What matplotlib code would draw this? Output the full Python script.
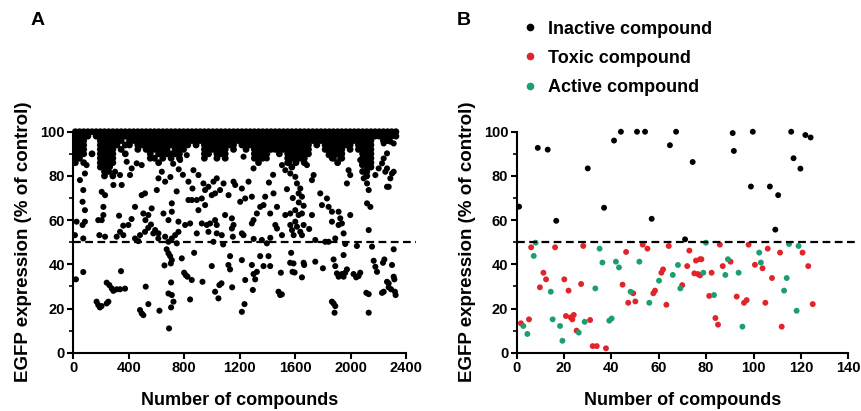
import matplotlib
matplotlib.use("Agg")
import matplotlib.pyplot as plt
from matplotlib.lines import Line2D

plt.rcParams["font.family"] = ["Liberation Sans", "DejaVu Sans"]
plt.rcParams["font.weight"] = "bold"

# ---------------- panel A data ----------------
threshold = 50
a_xticks = [0, 400, 800, 1200, 1600, 2000, 2400]
a_yticks = [0, 20, 40, 60, 80, 100]

# dense band near the top: one row per expression level, one column per 30 compounds
band_levels = [100, 98, 96, 94, 92, 90, 88, 86, 84, 82, 80]
band_step = 30
band_rows = [
    "###" "###" "####" "########" "######" "###" "####" "######" "######" "#####" "###" "###" "###" "###" "##" "###" "####" "###" "######",
    "###" "#.#" "####" "########" "######" "###" "####" "######" "######" "#####" "###" "###" "###" "###" "##" "###" "####" "###" "######",
    "###" "..." "####" "##.#####" "######" "###" "####" "######" "######" "#####" "###" "###" "###" "###" "##" "###" "####" "###" "..##..",
    "###" "..." "####" "#.##.###" "######" "###" "#.#." "######" "##.###" "#####" "###" "###" "###" ".#." "##" "###" "##.#" "###" "......",
    "###" "..." "####" ".#...#.#" "#####." "###" "...." "######" ".#..#." "#####" "###" "###" "###" "..." "##" "###" ".#.#" "###" "......",
    "###" ".#." "####" "..#....." "#.####" "##." "...." "##.###" "......" "####." ".#." "###" "###" "..." ".#" "###" "...." "###" "......",
    "##." "..." "####" "........" "##.#.#" ".#." "...." "#..#.#" "......" "###.." "..." "###" "##." "..." ".." "#.#" "...." "###" "......",
    "#.#" "..." "####" "........" "..#..." "..." "...." "......" "......" ".#..." "..." "#.#" ".#." "..." ".." ".#." "...." "###" "......",
    "..." "..." "###." "........" "......" "..." "...." "......" "......" "....." "..." ".#." "..." "..." ".." "..." "...." ".##" "......",
    "..." "..." ".##." "........" "......" "..." "...." "......" "......" "....." "..." "..." "..." "..." ".." "..." "...." "##." "......",
    "..." "..." ".#.#" "........" "......" "..." "...." "......" "......" "....." "..." "..." "..." "..." ".." "..." "...." ".#." "......",
]

# scattered compounds above the threshold (compound number, % of control)
a_upper = [
    (48, 78.1), (84, 81.1), (72, 73.6), (67, 68.3), (84, 64.5), (24, 59.3), (67, 57.8), (84, 59.3),
    (12, 53.2), (72, 51.7), (180, 60), (205, 60), (217, 62.3), (217, 66), (188, 53.2), (229, 52.5),
    (205, 72.8), (229, 71.3), (337, 54.7), (361, 53.2), (397, 57.8), (313, 52.5), (289, 75.9),
    (349, 75.9), (301, 81.9), (337, 80.4), (409, 80.4), (421, 83.4), (445, 66), (493, 71.3),
    (517, 72.1), (565, 65.3), (505, 63), (541, 62.3), (481, 53.2), (517, 54.7), (577, 54),
    (445, 51.7), (469, 50.5), (613, 51.7), (265, 84.1), (493, 84.9), (457, 85.7), (385, 86.4),
    (96, 84.9), (770, 87.2), (818, 89.4), (830, 77.4), (866, 82.6), (859, 74.3), (902, 80.4),
    (938, 76.6), (950, 73.6), (974, 75.1), (1010, 77.4), (1034, 78.9), (1058, 73.6), (1083, 76.6),
    (1119, 71.3), (1167, 75.9), (1155, 77.4), (1203, 68.3), (830, 69.1), (854, 69.1), (890, 69.1),
    (926, 69.8), (950, 66.8), (902, 64.5), (998, 71.3), (1022, 72.1), (710, 67.6), (650, 63),
    (710, 63.8), (686, 60), (758, 59.3), (806, 57.8), (842, 58.5), (926, 58.5), (962, 57.8),
    (986, 58.5), (1022, 60), (1034, 57.8), (1094, 62.3), (1143, 60.8), (1155, 57.8), (1143, 56.2),
    (614, 54), (662, 52.5), (710, 51.7), (734, 53.2), (758, 54.7), (890, 54), (974, 54.7),
    (1034, 54), (1070, 53.2), (1215, 54), (686, 50.2), (1010, 50.2), (638, 81.9), (614, 78.9),
    (662, 77.4), (602, 73.6), (1227, 88.7), (1299, 83.4), (1263, 77.4), (1239, 69.8), (1287, 70.6),
    (1215, 74.3), (1395, 87.9), (1504, 84.9), (1528, 82.6), (1564, 81.1), (1600, 79.6), (1612, 76.6),
    (1636, 74.3), (1624, 72.1), (1648, 70.6), (1732, 80.4), (1720, 78.1), (1684, 84.9), (1383, 70.6),
    (1443, 72.1), (1371, 66.8), (1347, 66), (1323, 63), (1299, 60), (1287, 58.5), (1419, 63),
    (1468, 66), (1528, 62.3), (1564, 63), (1600, 64.5), (1624, 62.3), (1648, 63), (1720, 62.3),
    (1780, 72.1), (1792, 66.8), (1840, 66), (1456, 57.8), (1468, 56.2), (1504, 53.2), (1564, 57.8),
    (1576, 55.5), (1588, 53.2), (1612, 57), (1636, 54.7), (1648, 53.2), (1600, 59.3), (1660, 57.8),
    (1227, 53.2), (1359, 51), (1744, 51), (1816, 50.2), (1840, 89.4), (1864, 87.9), (1924, 87.9),
    (1936, 90.2), (1984, 82.6), (1996, 80.4), (1972, 76.6), (2068, 87.2), (2081, 84.9), (2093, 78.9),
    (2117, 76.6), (2129, 73.6), (2117, 67.6), (2141, 66), (2177, 80.4), (2201, 83.4), (2237, 87.9),
    (2261, 90.2), (2249, 81.9), (2285, 78.9), (2309, 81.9), (2273, 75.1), (2237, 94.7), (2285, 95.5),
    (1828, 69.8), (1864, 63.8), (1864, 59.3), (1912, 63.8), (1924, 60.8), (1936, 58.5), (1912, 57.8),
    (1996, 62.3), (2129, 55.5), (1948, 54), (1888, 51.7), (1840, 50.2), (2225, 85.7), (2261, 83.4),
    (2297, 81.1), (2309, 94.7), (2261, 75.1), (1876, 89.0), (1558, 86.0), (1590, 90.5), (1625, 68.0),
    (1660, 66.5), (1582, 70.0), (1540, 74.0), (1700, 56.0), (1420, 52.0), (1300, 51.5), (1150, 52.5),
    (560, 58.0), (540, 56.5), (520, 60.0), (590, 55.5), (330, 62.0), (360, 57.5), (420, 60.5),
    (760, 83.0), (790, 80.5), (700, 79.5), (720, 85.5), (745, 73.0), (1410, 77.0), (1440, 80.5),
]

# scattered compounds below the threshold
a_lower = [
    (19, 33.2), (72, 36.5), (168, 23.1), (180, 21.6), (192, 20.5), (204, 21.1), (241, 22.3),
    (253, 23.1), (241, 31.7), (260, 30.6), (277, 29.1), (289, 28.0), (313, 28.7), (337, 28.7),
    (373, 29.0), (344, 36.9), (481, 19.3), (493, 17.8), (505, 17.0), (522, 29.9), (541, 22.0),
    (621, 19.0), (657, 39.5), (705, 20.5), (673, 46.8), (686, 45.0), (698, 43.7), (710, 41.9),
    (703, 40.4), (690, 11.0), (686, 26.8), (710, 26.1), (722, 23.1), (705, 31.8), (782, 42.7),
    (799, 36.2), (811, 35.1), (823, 34.4), (842, 24.1), (854, 32.9), (871, 45.2), (931, 32.1),
    (998, 39.2), (1022, 27.6), (1046, 24.6), (1053, 30.6), (1068, 31.4), (1118, 39.7), (1130, 37.7),
    (1130, 43.7), (1145, 29.6), (1215, 41.9), (1215, 18.5), (1234, 22.0), (1239, 32.9), (1287, 39.7),
    (1299, 35.6), (1311, 33.2), (1323, 36.6), (1294, 28.4), (1347, 43.7), (1371, 39.2), (1407, 43.7),
    (1419, 39.2), (1479, 27.6), (1491, 26.1), (1503, 26.4), (1496, 36.2), (1563, 40.7), (1570, 45.2),
    (1580, 36.6), (1595, 36.3), (1587, 40.4), (1648, 34.1), (1660, 40.7), (1664, 39.7), (1744, 41.2),
    (1799, 38.2), (1876, 42.2), (1888, 39.2), (1900, 35.9), (1912, 34.4), (1924, 35.1), (1936, 35.6),
    (1948, 34.4), (1960, 36.2), (1972, 37.7), (1864, 23.1), (1876, 22.3), (1888, 21.1), (1883, 18.1),
    (1948, 44.2), (1960, 49.2), (2020, 35.6), (2039, 34.1), (2056, 34.7), (2068, 36.2), (2044, 48.3),
    (2112, 27.1), (2129, 26.5), (2129, 18.1), (2153, 48.0), (2165, 41.6), (2177, 38.9), (2189, 36.6),
    (2232, 40.7), (2242, 42.2), (2237, 27.6), (2261, 32.1), (2273, 31.4), (2273, 29.6), (2290, 28.7),
    (2297, 39.7), (2309, 46.8), (2309, 34.4), (2314, 33.2), (2318, 27.6), (2323, 26.1), (2225, 27.1),
    (746, 49.5), (1395, 49.5), (1080, 49.0),
]

# ---------------- panel B data ----------------
b_xticks = [0, 20, 40, 60, 80, 100, 120, 140]
b_yticks = [0, 20, 40, 60, 80, 100]

inactive_x = [1.0, 8.9, 13.1, 16.7, 30.0, 36.9, 41.1, 44.0, 50.8, 54.2, 57.0, 64.7, 67.3, 74.3,
              71.1, 91.2, 91.7, 98.9, 99.7, 106.9, 110.4, 109.2, 115.9, 116.9, 119.8, 121.9, 124.1]
inactive_y = [66.1, 92.7, 91.9, 59.7, 83.4, 65.6, 96.0, 100, 100, 100, 60.6, 93.9, 100, 86.3,
              51.3, 99.4, 91.3, 75.2, 100, 75.2, 71.3, 55.7, 100, 88.0, 83.3, 98.5, 97.4]

toxic_x = [1.8, 5.2, 6.1, 9.8, 11.3, 12.4, 16.2, 20.1, 20.8, 21.9, 22.8, 23.5, 24.1, 25.3, 27.2,
           28.1, 31.0, 32.1, 33.8, 37.7, 44.7, 46.2, 47.1, 49.2, 50.1, 53.2, 55.2, 57.7, 58.4,
           61.1, 61.8, 63.2, 64.2, 69.9, 72.0, 72.9, 75.0, 75.7, 76.5, 77.4, 78.0, 77.4, 81.3,
           82.3, 83.9, 85.0, 85.8, 87.0, 90.3, 92.9, 96.0, 97.1, 97.9, 100.6, 103.8, 105.0,
           106.0, 107.8, 111.2, 111.9, 120.7, 123.1, 125.0]
toxic_y = [13.3, 15.1, 47.7, 29.6, 36.2, 33.2, 47.7, 33.2, 16.6, 28.1, 16.0, 15.1, 17.1, 10.0,
           31.1, 48.3, 14.8, 3.0, 3.0, 2.0, 30.8, 45.6, 22.6, 26.9, 23.2, 48.9, 47.1, 26.9, 28.1,
           36.2, 37.7, 21.7, 48.3, 30.6, 39.2, 46.2, 35.9, 41.7, 35.6, 42.3, 42.3, 35.0, 25.7,
           36.2, 15.7, 12.7, 48.9, 39.2, 41.2, 25.4, 22.6, 23.8, 48.9, 39.8, 38.2, 22.6,
           47.1, 33.8, 45.3, 11.8, 45.3, 39.2, 22.0]

active_x = [2.8, 4.5, 7.2, 8.0, 14.4, 15.2, 18.3, 19.3, 26.2, 28.7, 33.2, 35.0, 36.2, 39.1, 40.1,
            41.9, 43.2, 48.1, 51.8, 56.0, 60.1, 65.9, 68.1, 69.1, 78.8, 79.9, 83.3, 88.1, 89.2,
            93.7, 95.3, 102.4, 103.1, 112.9, 114.0, 115.0, 118.2, 119.0]
active_y = [12.1, 8.5, 43.8, 49.8, 27.6, 15.1, 12.1, 5.4, 9.1, 14.0, 29.1, 47.1, 40.8, 14.5, 15.5,
            41.2, 38.6, 27.6, 41.2, 22.6, 32.6, 35.2, 39.7, 29.1, 36.2, 49.8, 26.1, 35.2, 42.3,
            36.2, 11.8, 45.3, 40.8, 28.1, 33.8, 49.2, 19.0, 48.3]

red = "#e0242a"
green = "#1d9e6e"

# ---------------- figure ----------------
fig = plt.figure(figsize=(8.61, 4.11), dpi=100)
ax_a = fig.add_axes([0.0851, 0.1418, 0.3868, 0.5377])
ax_b = fig.add_axes([0.6001, 0.1418, 0.3851, 0.5377])

band_x, band_y = [], []
for level, row in zip(band_levels, band_rows):
    for i, c in enumerate(row):
        if c == "#":
            band_x.append(band_step / 2 + band_step * i)
            band_y.append(level)

pts = a_upper + a_lower
ax_a.scatter(band_x, band_y, s=24, color="black", edgecolors="none", clip_on=False, zorder=3)
ax_a.scatter([p[0] for p in pts], [p[1] for p in pts], s=19, color="black",
             edgecolors="none", clip_on=False, zorder=3)

ax_b.scatter(inactive_x, inactive_y, s=18, color="black", edgecolors="none", clip_on=False, zorder=3)
ax_b.scatter(toxic_x, toxic_y, s=18, color=red, edgecolors="none", clip_on=False, zorder=3)
ax_b.scatter(active_x, active_y, s=18, color=green, edgecolors="none", clip_on=False, zorder=3)

for ax, xt, yt in [(ax_a, a_xticks, a_yticks), (ax_b, b_xticks, b_yticks)]:
    ax.axhline(threshold, xmin=0, xmax=1.03, color="black", lw=1.6, ls=(0, (3.5, 2)),
               clip_on=False, zorder=4)
    ax.set_xlim(xt[0], xt[-1])
    ax.set_ylim(0, 100)
    ax.set_xticks(xt)
    ax.set_yticks(yt)
    ax.set_yticks([10, 30, 50, 70, 90], minor=True)
    ax.spines["top"].set_visible(False)
    ax.spines["right"].set_visible(False)
    ax.spines["left"].set_linewidth(1.5)
    ax.spines["bottom"].set_linewidth(1.5)
    ax.tick_params(which="major", length=4, width=1.5, labelsize=10.5, pad=2)
    ax.tick_params(which="minor", length=3, width=1.2)
    for lab in ax.get_xticklabels() + ax.get_yticklabels():
        lab.set_fontweight("bold")
    ax.set_xlabel("Number of compounds", fontsize=13, fontweight="bold", labelpad=12)
    ax.set_ylabel("EGFP expression (% of control)", fontsize=13.5, fontweight="bold", labelpad=6)

fig.text(0.036, 0.95, "A", fontsize=14, fontweight="bold", va="center", ha="left")
fig.text(0.531, 0.95, "B", fontsize=14, fontweight="bold", va="center", ha="left")

handles = [
    Line2D([], [], marker="o", ls="", color="black", markersize=4.5),
    Line2D([], [], marker="o", ls="", color=red, markersize=4.5),
    Line2D([], [], marker="o", ls="", color=green, markersize=4.5),
]
fig.legend(handles, ["Inactive compound", "Toxic compound", "Active compound"],
           loc="upper left", bbox_to_anchor=(0.597, 0.972), frameon=False,
           handlelength=0.8, handletextpad=0.6, labelspacing=0.68, borderpad=0,
           prop={"size": 13, "weight": "bold"})

fig.savefig("out.png", dpi=100)
